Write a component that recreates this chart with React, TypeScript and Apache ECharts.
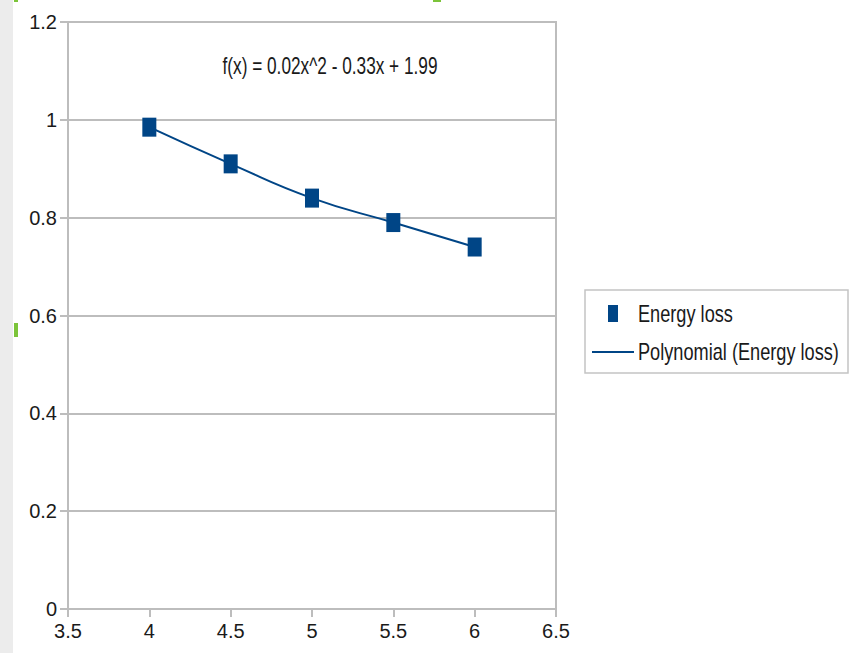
import React, { useEffect, useRef } from "react";
import * as echarts from "echarts";

const xValues = [4, 4.5, 5, 5.5, 6];
const energyLoss = [0.985, 0.91, 0.84, 0.79, 0.74];
const seriesName = "Energy loss";
const trendName = "Polynomial (Energy loss)";
const equation = "f(x) = 0.02x^2 - 0.33x + 1.99";

const FONT = "'Liberation Sans', Arial, sans-serif";
const BLUE = "#004586";
const GRAY = "#bdbdbd";
const TEXT = "#1a1a1a";

export default function App() {
  const ref = useRef<HTMLDivElement>(null);
  useEffect(() => {
    if (!ref.current) return;
    const chart = echarts.init(ref.current, null, { renderer: "svg" });
    const pts = xValues.map((x, i) => [x, energyLoss[i]]);
    chart.setOption({
      animation: false,
      backgroundColor: "#ffffff",
      textStyle: { fontFamily: FONT },
      grid: {
        left: 68,
        right: 299,
        top: 22,
        bottom: 44,
        show: true,
        borderColor: GRAY,
        borderWidth: 2,
      },
      xAxis: {
        type: "value",
        min: 3.5,
        max: 6.5,
        interval: 0.5,
        axisLine: { show: true, lineStyle: { color: GRAY, width: 2 } },
        axisTick: { show: true, length: 8, lineStyle: { color: GRAY, width: 2 } },
        splitLine: { show: false },
        axisLabel: { color: TEXT, fontSize: 20, fontFamily: FONT, margin: 12 },
      },
      yAxis: {
        type: "value",
        min: 0,
        max: 1.2,
        interval: 0.2,
        axisLine: { show: true, lineStyle: { color: GRAY, width: 2 } },
        axisTick: { show: true, length: 8, lineStyle: { color: GRAY, width: 2 } },
        splitLine: { show: true, lineStyle: { color: GRAY, width: 2 } },
        axisLabel: { color: TEXT, fontSize: 20, fontFamily: FONT, margin: 11 },
      },
      graphic: [
        { type: "rect", shape: { x: 0, y: 0, width: 13, height: 653 }, style: { fill: "#ececec" } },
        { type: "rect", shape: { x: 14, y: 0, width: 4, height: 2 }, style: { fill: "#7cc43a" } },
        { type: "rect", shape: { x: 433, y: 0, width: 8, height: 2 }, style: { fill: "#7cc43a" } },
        { type: "rect", shape: { x: 14, y: 323, width: 4, height: 14 }, style: { fill: "#7cc43a" } },
        {
          type: "rect",
          shape: { x: 585, y: 290, width: 263, height: 83 },
          style: { fill: "none", stroke: "#c4c4c4", lineWidth: 1.5 },
        },
        {
          type: "rect",
          shape: { x: 608, y: 305, width: 10, height: 17 },
          style: { fill: BLUE },
        },
        {
          type: "line",
          shape: { x1: 592, y1: 352, x2: 634, y2: 352 },
          style: { stroke: BLUE, lineWidth: 2 },
        },
        {
          type: "text",
          x: 638,
          y: 314,
          scaleX: 0.79,
          style: {
            text: seriesName,
            fill: TEXT,
            font: `23px ${FONT}`,
            textAlign: "left",
            textVerticalAlign: "middle",
          },
        },
        {
          type: "text",
          x: 638,
          y: 352,
          scaleX: 0.79,
          style: {
            text: trendName,
            fill: TEXT,
            font: `23px ${FONT}`,
            textAlign: "left",
            textVerticalAlign: "middle",
          },
        },
        {
          type: "text",
          x: 330,
          y: 66,
          scaleX: 0.75,
          style: {
            text: equation,
            fill: TEXT,
            font: `23px ${FONT}`,
            textAlign: "center",
            textVerticalAlign: "middle",
          },
        },
      ],
      series: [
        {
          name: trendName,
          type: "line",
          data: pts,
          smooth: 0.5,
          symbol: "none",
          lineStyle: { color: BLUE, width: 2 },
          itemStyle: { color: BLUE },
          z: 2,
        },
        {
          name: seriesName,
          type: "scatter",
          data: pts,
          symbol: "rect",
          symbolSize: [14, 19],
          itemStyle: { color: BLUE, opacity: 1 },
          z: 3,
        },
      ],
    });
    return () => chart.dispose();
  }, []);
  return (
    <div
      ref={ref}
      style={{ position: "absolute", left: 0, top: 0, width: 855, height: 653 }}
    />
  );
}
